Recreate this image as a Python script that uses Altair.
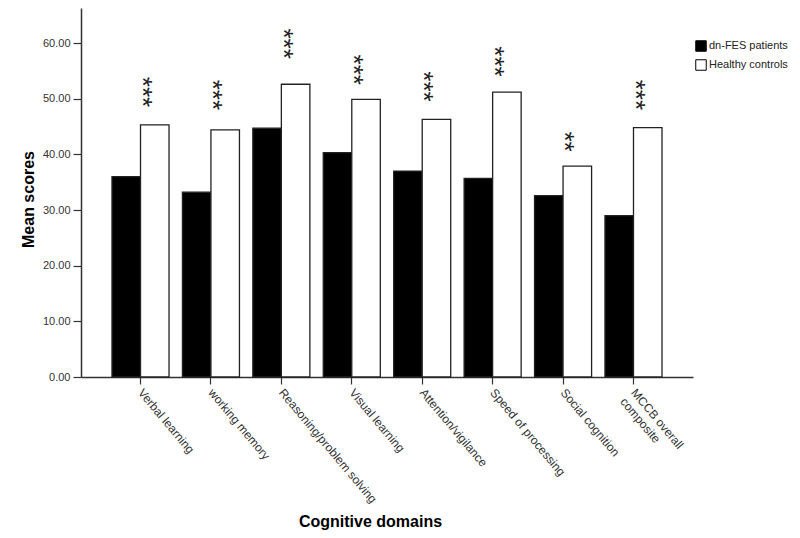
import altair as alt
import pandas as pd

categories = ["Verbal learning", "working memory", "Reasoning/problem solving",
              "Visual learning", "Attention/vigilance", "Speed of processing",
              "Social cognition", "MCCB overall composite"]
groups = ["dn-FES patients", "Healthy controls"]
patients = [36.0, 33.2, 44.7, 40.3, 37.0, 35.7, 32.6, 29.0]
controls = [45.3, 44.4, 52.6, 49.9, 46.3, 51.2, 37.9, 44.8]
stars = ["***", "***", "***", "***", "***", "***", "**", "***"]
star_pos = [51.2, 50.7, 59.9, 55.2, 52.2, 56.7, 42.3, 50.7]
y_ticks = [0, 10, 20, 30, 40, 50, 60]

rows = []
for c, p, h in zip(categories, patients, controls):
    rows.append({"domain": c, "group": groups[0], "score": p})
    rows.append({"domain": c, "group": groups[1], "score": h})
df = pd.DataFrame(rows)
star_df = pd.DataFrame({"domain": categories, "group": groups[1],
                        "stars": stars, "pos": star_pos})

FONT = "Liberation Sans"

x = alt.X("domain:N", sort=categories,
          scale=alt.Scale(paddingInner=0.19, paddingOuter=0.44),
          axis=alt.Axis(title="Cognitive domains", labelAngle=50, labelAlign="left",
                        labelBaseline="middle", labelPadding=6, tickSize=7,
                        labelFontSize=12, labelLimit=300,
                        labelExpr="datum.value == 'MCCB overall composite' ? ['MCCB overall', 'composite'] : datum.value",
                        titleX=289, titleY=144, titleAnchor="middle",
                        titleAlign="center", titleBaseline="middle"))
xo = alt.XOffset("group:N", sort=groups, scale=alt.Scale(paddingInner=0, paddingOuter=0))

bars = alt.Chart(df).mark_bar(stroke="#222", strokeWidth=1.3).encode(
    x=x,
    xOffset=xo,
    y=alt.Y("score:Q", scale=alt.Scale(domain=[0, 66.3], nice=False),
            axis=alt.Axis(title="Mean scores", values=y_ticks, format=".2f",
                          grid=False, tickSize=8, labelPadding=3, labelFontSize=11,
                          titleX=-53, titleY=191, titleAngle=270,
                          titleAlign="center", titleBaseline="middle")),
    color=alt.Color("group:N", sort=groups,
                    scale=alt.Scale(domain=groups, range=["black", "white"]),
                    legend=alt.Legend(title=None, orient="none", legendX=614, legendY=32,
                                      symbolType="square", symbolSize=110,
                                      symbolStrokeColor="black", symbolStrokeWidth=1,
                                      labelFontSize=11, labelColor="#222",
                                      rowPadding=3, labelOffset=2, padding=0)),
)

text = alt.Chart(star_df).mark_text(angle=90, align="center", baseline="middle",
                                     fontSize=26, dy=13, color="#222", font=FONT).encode(
    x=alt.X("domain:N", sort=categories),
    xOffset=alt.XOffset("group:N", sort=groups),
    y=alt.Y("pos:Q"),
    text="stars:N",
)

chart = alt.layer(bars, text).properties(
    width=612, height=369,
    padding={"left": 73, "top": 0, "right": 99, "bottom": 160},
    autosize=alt.AutoSizeParams(type="none"),
).configure_view(stroke=None).configure_axis(
    domainColor="#333", tickColor="#333", labelColor="#333", domainWidth=1.5,
    tickWidth=1.2, labelFont=FONT, titleFont=FONT, titleFontSize=16,
    titleFontWeight="bold", titleColor="black",
).configure_legend(labelFont=FONT)

chart.save("out.html", embed_options={"renderer": "svg", "actions": False})
